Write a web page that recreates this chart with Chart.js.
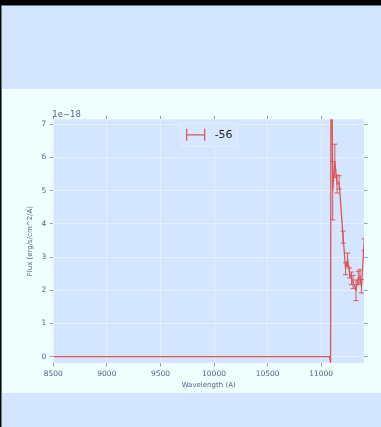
<!DOCTYPE html>
<html>
<head>
<meta charset="utf-8">
<script src="https://cdn.jsdelivr.net/npm/chart.js@4/dist/chart.umd.min.js"></script>
<style>
  html, body { margin: 0; padding: 0; background: #000; width: 381px; height: 427px; overflow: hidden; }
  #frame { position: absolute; left: 1px; top: 5px; width: 380px; height: 422px; background: #d4e6ff;
           border-left: 1px solid #6b7a8a; border-top: 1px solid #6b7a8a; box-sizing: border-box; }
  #band { position: absolute; left: 2px; top: 89px; width: 379px; height: 304px; background: #eefffe; }
  #spec { position: absolute; left: 0; top: 0; }
</style>
</head>
<body>
<div id="frame"></div>
<div id="band"></div>
<canvas id="spec" width="381" height="427"></canvas>
<script>
// spectrum samples; flux in units of 1e-18 erg/s/cm^2/A
const wavelength = [8500, 9000, 9500, 10000, 10500, 11000, 11076, 11088, 11093,
  11108, 11128, 11148, 11168, 11205, 11228, 11247, 11265, 11283, 11298, 11325,
  11346, 11362, 11376, 11400];
const flux = [0, 0, 0, 0, 0, 0, 0, -0.17, 12.0,
  5.0, 5.9, 5.2, 5.25, 3.6, 2.65, 2.92, 2.52, 2.36, 2.25, 2.0,
  2.37, 2.42, 2.12, 3.37];
const fluxErr = [0, 0, 0, 0, 0, 0, 0, 0, 0,
  0.88, 0.5, 0.27, 0.2, 0.18, 0.18, 0.2, 0.15, 0.19, 0.2, 0.31,
  0.2, 0.2, 0.2, 0.18];
const seriesLabel = "-56";
const xTicks = [8500, 9000, 9500, 10000, 10500, 11000];
const yTicks = [0, 1, 2, 3, 4, 5, 6, 7];

const lineColor = "#dc5656";
const textColor = "#5a6080";
const gridColor = "rgba(255,255,255,0.38)";
const tickColor = "#959cb0";

Chart.defaults.font.family = "'DejaVu Sans', sans-serif";

const points = wavelength.map((w, i) => ({ x: w, y: flux[i] }));

// plot face, error bars, legend and the exponent label
const decorations = {
  id: "decorations",
  beforeDraw(chart) {
    const { ctx, chartArea: a } = chart;
    ctx.save();
    ctx.fillStyle = "#d4e6ff";
    ctx.fillRect(a.left, a.top, a.right - a.left, a.bottom - a.top);
    ctx.restore();
  },
  afterDatasetsDraw(chart) {
    const { ctx, chartArea: a, scales } = chart;
    const xs = scales.x, ys = scales.y;

    // error bars
    ctx.save();
    ctx.beginPath();
    ctx.rect(a.left, a.top, a.right - a.left, a.bottom - a.top);
    ctx.clip();
    ctx.strokeStyle = lineColor;
    ctx.lineWidth = 1;
    fluxErr.forEach((e, i) => {
      if (!e) return;
      const px = xs.getPixelForValue(wavelength[i]);
      const hi = ys.getPixelForValue(flux[i] + e);
      const lo = ys.getPixelForValue(flux[i] - e);
      ctx.beginPath();
      ctx.moveTo(px, hi); ctx.lineTo(px, lo);
      ctx.moveTo(px - 2.5, hi); ctx.lineTo(px + 2.5, hi);
      ctx.moveTo(px - 2.5, lo); ctx.lineTo(px + 2.5, lo);
      ctx.stroke();
    });
    ctx.restore();

    // legend
    const cx = (a.left + a.right) / 2;
    const bx = cx - 29, by = a.top + 3.5, bw = 58, bh = 24;
    const my = by + bh / 2;
    ctx.save();
    ctx.fillStyle = "#d6e7ff";
    ctx.strokeStyle = "#e4eefc";
    ctx.lineWidth = 1;
    ctx.fillRect(bx, by, bw, bh);
    ctx.strokeRect(bx + 0.5, by + 0.5, bw - 1, bh - 1);
    ctx.strokeStyle = lineColor;
    ctx.lineWidth = 1.2;
    ctx.beginPath();
    ctx.moveTo(bx + 7, my); ctx.lineTo(bx + 25, my);
    ctx.moveTo(bx + 7, my - 6); ctx.lineTo(bx + 7, my + 6);
    ctx.moveTo(bx + 25, my - 6); ctx.lineTo(bx + 25, my + 6);
    ctx.stroke();
    ctx.fillStyle = "#1e1e1e";
    ctx.font = "11px 'DejaVu Sans'";
    ctx.textAlign = "left";
    ctx.textBaseline = "middle";
    ctx.fillText(chart.data.datasets[0].label, bx + 35, my);

    // axis multiplier
    ctx.fillStyle = textColor;
    ctx.font = "8.5px 'DejaVu Sans'";
    ctx.textBaseline = "alphabetic";
    ctx.fillText("1e\u221218", a.left - 1, a.top - 2);
    ctx.restore();
  }
};

const setTicks = (values) => (scale) => {
  scale.ticks = values.map((v) => ({ value: v }));
};

new Chart(document.getElementById("spec"), {
  type: "line",
  data: {
    datasets: [
      {
        label: seriesLabel,
        data: points,
        borderColor: lineColor,
        borderWidth: 1.3,
        pointRadius: 0,
        tension: 0,
        fill: false,
      },
    ],
  },
  options: {
    responsive: false,
    animation: false,
    devicePixelRatio: 1,
    layout: { padding: { left: 26, right: 13.5, top: 115.8, bottom: 37 } },
    plugins: {
      legend: { display: false },
      tooltip: { enabled: false },
    },
    scales: {
      x: {
        type: "linear",
        position: "bottom",
        min: 8500,
        max: 11400,
        afterBuildTicks: setTicks(xTicks),
        afterFit: (s) => { s.height = 27; },
        border: { display: false },
        grid: { color: gridColor, tickColor: tickColor, tickLength: 3.5 },
        ticks: {
          color: textColor,
          font: { size: 7.5 },
          padding: 3,
          maxRotation: 0,
          autoSkip: false,
          callback: (v) => String(v),
        },
        title: {
          display: true,
          text: "Wavelength (A)",
          color: textColor,
          font: { size: 7 },
          padding: { top: 0, bottom: 1 },
        },
      },
      x2: {
        type: "linear",
        position: "top",
        min: 8500,
        max: 11400,
        afterBuildTicks: setTicks(xTicks),
        afterFit: (s) => { s.height = 3.5; },
        border: { display: false },
        grid: { drawOnChartArea: false, tickColor: tickColor, tickLength: 3.5 },
        ticks: { display: false },
      },
      y: {
        type: "linear",
        position: "left",
        min: -0.19,
        max: 7.15,
        afterBuildTicks: setTicks(yTicks),
        afterFit: (s) => { s.width = 27.3; },
        border: { display: false },
        grid: { color: gridColor, tickColor: tickColor, tickLength: 3.5 },
        ticks: {
          color: textColor,
          font: { size: 7.5 },
          padding: 3.5,
          callback: (v) => String(v),
        },
        title: {
          display: true,
          text: "Flux (erg/s/cm^2/A)",
          color: textColor,
          font: { size: 7 },
          padding: { top: 0, bottom: 0 },
        },
      },
      y2: {
        type: "linear",
        position: "right",
        min: -0.19,
        max: 7.15,
        afterBuildTicks: setTicks(yTicks),
        afterFit: (s) => { s.width = 3.5; },
        border: { display: false },
        grid: { drawOnChartArea: false, tickColor: tickColor, tickLength: 3.5 },
        ticks: { display: false },
      },
    },
  },
  plugins: [decorations],
});
</script>
</body>
</html>
